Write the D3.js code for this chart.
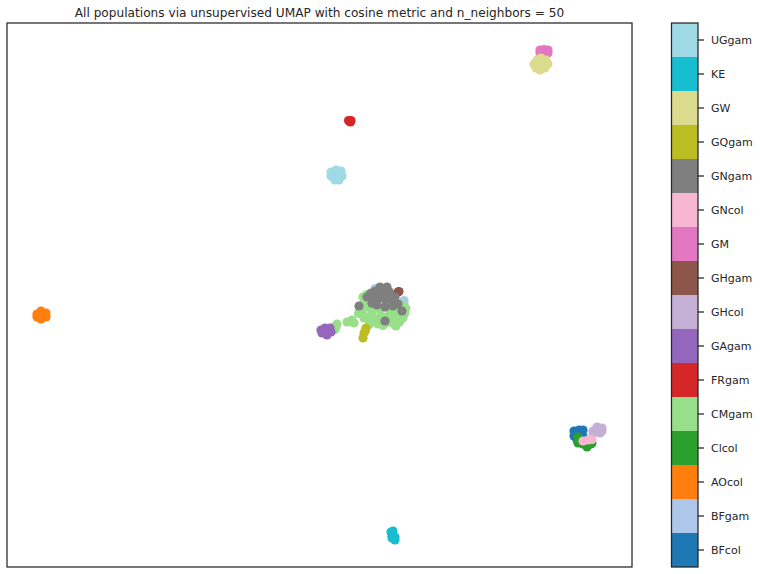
<!DOCTYPE html>
<html>
<head>
	<meta charset="utf-8">
	<title>umap populations</title>
	<style>
		html, body { margin: 0; padding: 0; background: #fff; }
		text { font-family: "DejaVu Sans", sans-serif; fill: #262626; }
	</style>
</head>
<body>
<div class="svg-umap"></div>
<script src="https://cdn.jsdelivr.net/npm/d3@7"></script>
<script>
	// populations, bottom to top of the colour bar
	const populations = ["BFcol", "BFgam", "AOcol", "Clcol", "CMgam", "FRgam", "GAgam", "GHcol",
		"GHgam", "GM", "GNcol", "GNgam", "GQgam", "GW", "KE", "UGgam"];
	const colours = ["#1f77b4", "#aec7e8", "#ff7f0e", "#2ca02c", "#98df8a", "#d62728", "#9467bd", "#c5b0d5",
		"#8c564b", "#e377c2", "#f7b6d2", "#7f7f7f", "#bcbd22", "#dbdb8d", "#17becf", "#9edae5"];

	// embedding values
	const BFcol = [[9.68, -5.56], [9.88, -5.52], [10.04, -5.52], [9.68, -5.76], [9.92, -5.76], [9.80, -5.92], [10.04, -5.76], [9.78, -5.66]];
	const BFgam = [[1.72, 0.14], [1.90, 0.16], [2.88, -0.34], [2.88, -0.44]];
	const AOcol = [[-11.80, -0.88], [-11.64, -0.76], [-11.44, -0.84], [-11.44, -1.00], [-11.64, -1.08], [-11.80, -1.00], [-11.64, -0.92]];
	const Clcol = [[9.88, -5.92], [10.04, -6.08], [10.20, -6.20], [10.36, -6.08], [10.16, -5.96], [9.84, -5.80], [10.40, -6.04], [9.84, -6.04]];
	const CMgam = [[1.12, -0.72], [1.24, -0.48], [1.44, -0.32], [1.72, -0.24], [2.12, -0.24], [2.52, -0.32], [2.80, -0.52],
		[2.92, -0.84], [2.84, -1.04], [2.52, -1.32], [2.16, -1.24], [1.84, -1.28], [1.52, -1.20], [1.28, -1.04],
		[1.92, -0.72], [2.32, -0.72], [1.60, -0.80], [2.56, -0.80],
		[1.40, -0.60], [1.60, -0.56], [1.80, -0.50], [2.00, -0.50], [2.30, -0.50], [2.60, -0.55], [1.20, -0.85],
		[1.45, -1.00], [1.70, -1.05], [1.95, -1.00], [2.15, -1.00], [2.40, -1.05], [2.65, -1.05], [1.10, -0.60], [2.95, -0.65],
		[1.24, -0.20], [1.40, -0.10], [1.06, -0.86], [1.50, -1.30], [2.04, -1.34], [2.30, -1.20], [2.56, -1.36], [2.70, -1.20],
		[0.08, -1.40], [0.20, -1.28], [0.12, -1.50], [0.16, -1.40], [0.60, -1.20], [0.80, -1.12], [0.88, -1.24]];
	const FRgam = [[0.66, 6.86], [0.74, 6.80], [0.70, 6.82], [0.76, 6.86]];
	const GAgam = [[-0.44, -1.52], [-0.28, -1.44], [-0.08, -1.44], [-0.04, -1.60], [-0.20, -1.72], [-0.40, -1.64], [-0.24, -1.56]];
	const GHcol = [[10.44, -5.56], [10.60, -5.44], [10.80, -5.44], [10.80, -5.56], [10.60, -5.60], [10.44, -5.64], [10.72, -5.64], [10.60, -5.40]];
	const GHgam = [[2.64, 0.00], [2.68, 0.02]];
	const GM = [[8.32, 9.68], [8.48, 9.70], [8.64, 9.68], [8.32, 9.56], [8.48, 9.56], [8.64, 9.56]];
	const GNcol = [[10.04, -5.96], [10.24, -5.92], [10.40, -5.90]];
	const GNgam = [[1.40, -0.20], [1.60, -0.32], [1.72, 0.04], [1.92, 0.20], [2.20, 0.20], [2.04, -0.04], [2.32, -0.12],
		[2.52, -0.20], [1.84, -0.24], [2.12, -0.28], [2.40, -0.36], [2.64, -0.48], [2.80, -0.76], [1.80, -0.52],
		[2.12, -0.60], [2.44, -0.56], [1.08, -0.56], [2.12, -1.16],
		[1.55, -0.05], [1.75, -0.15], [2.00, 0.10], [2.30, 0.00], [2.10, -0.15], [2.35, -0.25], [1.60, -0.45]];
	const GQgam = [[1.36, -1.44], [1.28, -1.64], [1.24, -1.84], [1.34, -1.54]];
	const GW = [[8.08, 9.12], [8.20, 9.28], [8.36, 9.36], [8.56, 9.28], [8.64, 9.12], [8.52, 8.96], [8.32, 8.88], [8.16, 8.96], [8.36, 9.12]];
	const KE = [[2.36, -9.60], [2.40, -9.76], [2.52, -9.92], [2.44, -9.72], [2.44, -9.56], [2.40, -9.84], [2.52, -9.80]];
	const UGgam = [[-0.04, 4.80], [0.16, 4.88], [0.36, 4.84], [0.40, 4.64], [0.28, 4.48], [0.12, 4.48], [-0.04, 4.64], [0.16, 4.68]];

	const series = [BFcol, BFgam, AOcol, Clcol, CMgam, FRgam, GAgam, GHcol, GHgam, GM, GNcol, GNgam, GQgam, GW, KE, UGgam];

	const chartTitle = "All populations via unsupervised UMAP with cosine metric and n_neighbors = 50";
	const xDomain = [-13, 12];
	const yDomain = [-11.0, 10.76];

	window.onload = function(){
		showUmap();
	}

	function showUmap(){
		// canvas setting
		let svg_width = 760;
		let svg_height = 574;
		let plot = {"left": 7, "right": 632, "top": 23, "bottom": 567};
		let bar = {"left": 671.5, "right": 698};

		let container = d3.select(".svg-umap").append("svg")
			.attr("width", svg_width)
			.attr("height", svg_height)
			.style("display", "block");

		// scale
		let scaleX = d3.scaleLinear().domain(xDomain).range([plot.left, plot.right]);
		let scaleY = d3.scaleLinear().domain(yDomain).range([plot.bottom, plot.top]);
		let scaleBar = d3.scaleBand().domain(populations).range([plot.bottom, plot.top]);

		// draw all the points, one group per population
		series.forEach(function(points, i){
			container.append("g")
				.attr("class", populations[i])
				.selectAll("circle")
				.data(points)
				.enter()
				.append("circle")
				.attr("r", 4.6)
				.attr("fill", colours[i])
				.attr("cx", (value) => scaleX(value[0]))
				.attr("cy", (value) => scaleY(value[1]));
		});

		// frame
		container.append("rect")
			.attr("x", plot.left)
			.attr("y", plot.top)
			.attr("width", plot.right - plot.left)
			.attr("height", plot.bottom - plot.top)
			.attr("fill", "none")
			.attr("stroke", "#262626")
			.attr("stroke-width", 1.25);

		// title
		container.append("text")
			.attr("x", (plot.left + plot.right) / 2)
			.attr("y", 17)
			.attr("text-anchor", "middle")
			.attr("font-size", 12.15)
			.text(chartTitle);

		// colour bar
		container.append("g")
			.selectAll("rect")
			.data(populations)
			.enter()
			.append("rect")
			.attr("x", bar.left)
			.attr("width", bar.right - bar.left)
			.attr("y", (value) => scaleBar(value))
			.attr("height", scaleBar.bandwidth())
			.attr("fill", (value, index) => colours[index]);

		container.append("rect")
			.attr("x", bar.left)
			.attr("y", plot.top)
			.attr("width", bar.right - bar.left)
			.attr("height", plot.bottom - plot.top)
			.attr("fill", "none")
			.attr("stroke", "#262626")
			.attr("stroke-width", 1.25);

		let axisBar = d3.axisRight().scale(scaleBar).tickSize(6).tickPadding(7);
		let barAxis = container.append("g")
			.attr("class", "axis axis-bar")
			.attr("transform", "translate(" + bar.right + ", 0)")
			.call(axisBar);
		barAxis.select(".domain").remove();
		barAxis.selectAll("line").attr("stroke", "#262626").attr("stroke-width", 1.25);
		barAxis.selectAll("text")
			.attr("font-size", 11)
			.style("font-family", "'DejaVu Sans', sans-serif")
			.attr("fill", "#262626");
	}
</script>
</body>
</html>
